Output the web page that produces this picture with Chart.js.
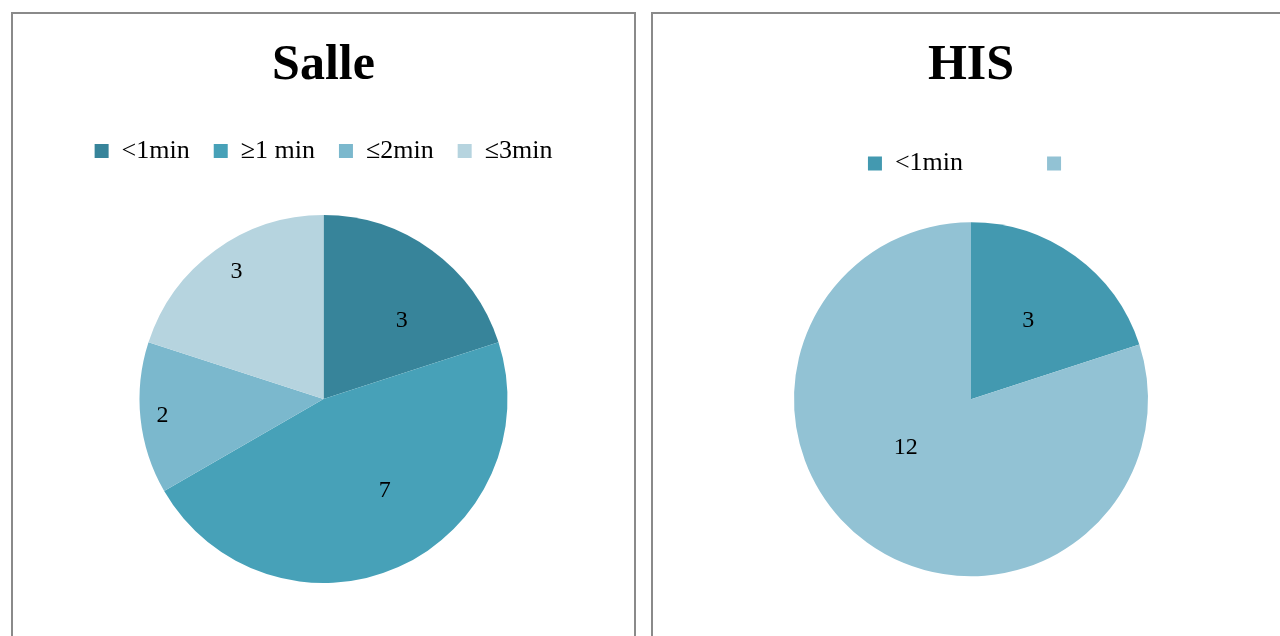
<!DOCTYPE html>
<html>
<head>
<meta charset="utf-8">
<script src="https://cdn.jsdelivr.net/npm/chart.js@4.4.1/dist/chart.umd.min.js"></script>
<style>
  html, body { margin: 0; padding: 0; background: #fff; overflow: hidden; }
  body { width: 1280px; height: 636px; position: relative; }
  .panel { position: absolute; top: 12px; height: 700px; box-sizing: border-box; border: 2px solid #8a8a8a; background: #fff; }
  .panel .inner { position: relative; width: 100%; height: 100%; }
  #p1 { left: 11px; width: 625px; }
  #p2 { left: 651px; width: 640px; }
</style>
</head>
<body>
<div class="panel" id="p1"><div class="inner"><canvas id="chartSalle"></canvas></div></div>
<div class="panel" id="p2"><div class="inner"><canvas id="chartHis"></canvas></div></div>
<script>
  // Salle
  const salleLabels = ['<1min', '\u22651 min', '\u22642min', '\u22643min'];
  const salleValues = [3, 7, 2, 3];
  const salleColors = ['#37849a', '#47a1b8', '#7bb8cd', '#b6d4df'];

  // HIS
  const hisLabels = ['<1min', ''];
  const hisValues = [3, 12];
  const hisColors = ['#4399b0', '#92c2d4'];

  const FONT = "'Liberation Serif', 'Times New Roman', serif";

  // value labels inside slices, placed along the slice's mid angle
  const sliceLabels = {
    id: 'sliceLabels',
    afterDatasetsDraw(chart, args, opts) {
      const { ctx } = chart;
      const meta = chart.getDatasetMeta(0);
      const values = chart.data.datasets[0].data;
      ctx.save();
      ctx.font = `24px ${FONT}`;
      ctx.fillStyle = '#000';
      ctx.textAlign = 'center';
      ctx.textBaseline = 'middle';
      meta.data.forEach((arc, i) => {
        const p = arc.getProps(['x', 'y', 'startAngle', 'endAngle', 'outerRadius'], true);
        const mid = (p.startAngle + p.endAngle) / 2 + (opts.shift[i] || 0);
        const r = p.outerRadius * (opts.fractions[i] || 0.6);
        ctx.fillText(String(values[i]), p.x + Math.cos(mid) * r, p.y + Math.sin(mid) * r);
      });
      ctx.restore();
    }
  };

  function buildPie(canvasId, title, labels, values, colors, cfg) {
    const ctx = document.getElementById(canvasId);
    return new Chart(ctx, {
      type: 'pie',
      data: { labels, datasets: [{ data: values, backgroundColor: colors, borderWidth: 0, radius: cfg.radius, clip: false }] },
      options: {
        responsive: true,
        maintainAspectRatio: false,
        animation: false,
        layout: { padding: { top: 0, left: 0, right: 0, bottom: cfg.bottom } },
        plugins: {
          title: {
            display: true, text: title, color: '#000',
            font: { family: FONT, size: 50, weight: 'bold', lineHeight: cfg.titleLH },
            padding: { top: cfg.titleTop, bottom: cfg.titleBottom }
          },
          legend: {
            position: 'top',
            labels: { color: '#000', boxWidth: 14, boxHeight: 14, padding: cfg.legendPad, font: { family: FONT, size: 26 } }
          },
          tooltip: { enabled: false },
          sliceLabels: { fractions: cfg.fractions, shift: cfg.shift }
        }
      },
      plugins: [sliceLabels]
    });
  }

  buildPie('chartSalle', 'Salle', salleLabels, salleValues, salleColors,
    { radius: 184, bottom: 86, titleLH: 1.2, titleTop: 22, titleBottom: 18, legendPad: 24,
      fractions: [0.6, 0.6, 0.88, 0.84], shift: [0.16, -0.17, 0, 0.03] });
  buildPie('chartHis', 'HIS', hisLabels, hisValues, hisColors,
    { radius: 177, bottom: 98, titleLH: 0.01, titleTop: 52, titleBottom: 0, legendPad: 84,
      fractions: [0.55, 0.46], shift: [0, 0.3] });
</script>
</body>
</html>
